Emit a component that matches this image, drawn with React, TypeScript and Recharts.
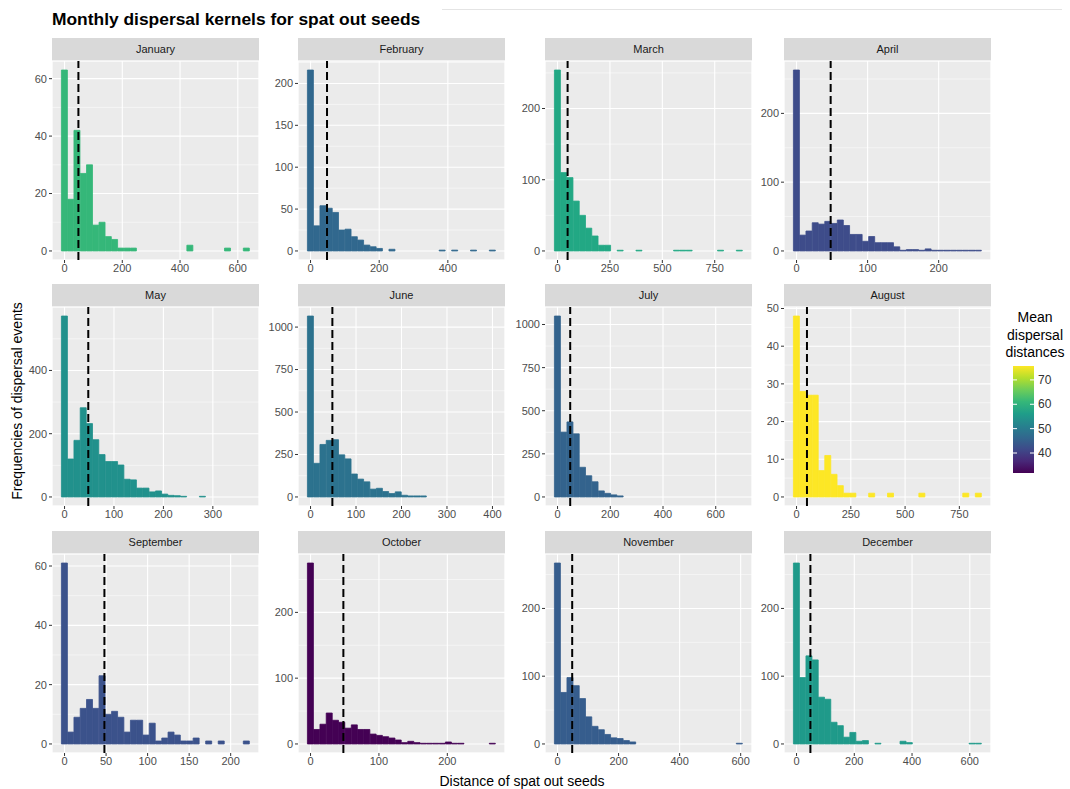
import React from 'react';
import { BarChart, Bar, XAxis, YAxis, CartesianGrid, ReferenceLine } from 'recharts';

// Month facets, in display order (4 per row)
const MONTHS = [
  'January', 'February', 'March', 'April',
  'May', 'June', 'July', 'August',
  'September', 'October', 'November', 'December',
];

// Largest dispersal distance per month (centre of the last of 30 bins)
const MAX_DIST = [630, 530, 868, 256, 368, 400, 690, 838, 219, 266, 596, 630];

// Histogram counts, 30 bins per month
const COUNTS_JAN = [63, 18, 42, 27, 30, 9, 10, 5, 4, 1, 1, 1, 0, 0, 0, 0, 0, 0, 0, 0, 2, 0, 0, 0, 0, 0, 1, 0, 0, 1];
const COUNTS_FEB = [216, 30, 54, 51, 46, 25, 26, 17, 13, 7, 5, 3, 0, 2, 0, 0, 0, 0, 0, 0, 0, 1, 0, 1, 0, 0, 1, 0, 0, 1];
const COUNTS_MAR = [254, 110, 103, 70, 50, 32, 21, 8, 8, 0, 1, 0, 0, 1, 0, 0, 0, 0, 0, 1, 1, 1, 0, 0, 0, 0, 1, 0, 0, 1];
const COUNTS_APR = [263, 23, 29, 41, 39, 43, 40, 45, 37, 24, 24, 14, 21, 12, 12, 12, 6, 1, 2, 2, 1, 3, 1, 1, 1, 1, 1, 1, 1, 1];
const COUNTS_MAY = [572, 120, 179, 282, 232, 181, 134, 112, 112, 101, 56, 54, 28, 28, 16, 19, 9, 5, 4, 2, 0, 0, 2, 0, 0, 0, 0, 0, 0, 0];
const COUNTS_JUN = [1065, 198, 309, 333, 337, 248, 224, 135, 105, 89, 46, 51, 32, 20, 30, 10, 6, 6, 6, 0, 0, 0, 0, 0, 0, 0, 0, 0, 0, 0];
const COUNTS_JUL = [1049, 376, 435, 366, 172, 123, 88, 35, 21, 12, 6, 0, 0, 0, 0, 0, 0, 0, 0, 0, 0, 0, 0, 0, 0, 0, 0, 0, 0, 0];
const COUNTS_AUG = [48, 28, 27, 27, 7, 11, 6, 3, 1, 1, 0, 0, 1, 0, 0, 1, 0, 0, 0, 0, 1, 0, 0, 0, 0, 0, 0, 1, 0, 1];
const COUNTS_SEP = [61, 4, 9, 12, 15, 12, 23, 10, 11, 9, 4, 8, 8, 3, 7, 1, 2, 4, 3, 1, 1, 2, 0, 1, 0, 1, 0, 0, 0, 1];
const COUNTS_OCT = [275, 22, 30, 47, 36, 33, 24, 29, 22, 22, 15, 13, 11, 9, 6, 2, 4, 2, 1, 1, 1, 1, 3, 1, 1, 0, 0, 0, 0, 1];
const COUNTS_NOV = [267, 76, 98, 86, 67, 40, 26, 21, 14, 9, 8, 5, 3, 0, 0, 0, 0, 0, 0, 0, 0, 0, 0, 0, 0, 0, 0, 0, 0, 1];
const COUNTS_DEC = [267, 98, 130, 124, 69, 66, 32, 27, 10, 17, 4, 5, 0, 1, 0, 0, 0, 4, 2, 0, 0, 0, 0, 0, 0, 0, 0, 0, 1, 1];

const COUNTS = [
  COUNTS_JAN, COUNTS_FEB, COUNTS_MAR, COUNTS_APR,
  COUNTS_MAY, COUNTS_JUN, COUNTS_JUL, COUNTS_AUG,
  COUNTS_SEP, COUNTS_OCT, COUNTS_NOV, COUNTS_DEC,
];

// fill colour of each month (viridis, by that month's mean distance)
const BAR_COLORS = [
  '#35B779', '#31688E', '#22A884', '#3E4C8A',
  '#21918C', '#2C728E', '#33638D', '#FDE725',
  '#3B528B', '#440154', '#365D8D', '#1F9A8A',
];

const X_TICKS = [
  [0, 200, 400, 600], [0, 200, 400], [0, 250, 500, 750], [0, 100, 200],
  [0, 100, 200, 300], [0, 100, 200, 300, 400], [0, 200, 400, 600], [0, 250, 500, 750],
  [0, 50, 100, 150, 200], [0, 100, 200], [0, 200, 400, 600], [0, 200, 400, 600],
];

const Y_TICKS = [
  [0, 20, 40, 60], [0, 50, 100, 150, 200], [0, 100, 200], [0, 100, 200],
  [0, 200, 400], [0, 250, 500, 750, 1000], [0, 250, 500, 750, 1000], [0, 10, 20, 30, 40, 50],
  [0, 20, 40, 60], [0, 100, 200], [0, 100, 200], [0, 100, 200],
];

// overall mean distance (dashed line)
const OVERALL_MEAN = 48;

// colour bar
const LEGEND_RANGE = [31.8, 75.7];
const LEGEND_TICKS = [40, 50, 60, 70];
const VIRIDIS = ['#440154', '#482878', '#3E4A89', '#31688E', '#26828E', '#1F9E89', '#35B779', '#6DCD59', '#B4DE2C', '#FDE725'];

const FONT = '"Liberation Sans", Arial, sans-serif';
const COL_LEFT = [52, 298, 545, 784];
const ROW_TOP = [61, 307, 554];
const PANEL_W = 207;
const PANEL_H = 199;
const STRIP_H = 23;
const Y_AXIS_W = 40;
const X_AXIS_H = 20;

const minorOf = (major: number[], lo: number, hi: number) => {
  const step = major[1] - major[0];
  const out: number[] = [];
  for (let v = major[0] - step / 2; v <= major[major.length - 1] + step / 2 + 1e-9; v += step) {
    if (v > lo && v < hi) out.push(v);
  }
  return out;
};

const Panel = ({ idx }: { idx: number }) => {
  const counts = COUNTS[idx];
  const w = MAX_DIST[idx] / (counts.length - 1);
  const data = counts.map((n, i) => ({ x: i * w, n }));

  const lo = -w / 2;
  const hi = MAX_DIST[idx] + w / 2;
  const padX = (hi - lo) * 0.05;
  const xDomain: [number, number] = [lo - padX, hi + padX];
  const yMax = Math.max(...counts);
  const yDomain: [number, number] = [-yMax * 0.05, yMax * 1.05];

  const col = idx % 4;
  const row = Math.floor(idx / 4);
  const color = BAR_COLORS[idx];

  return (
    <div style={{ position: 'absolute', left: COL_LEFT[col] - Y_AXIS_W, top: ROW_TOP[row] - STRIP_H }}>
      <div
        style={{
          marginLeft: Y_AXIS_W,
          width: PANEL_W,
          height: STRIP_H,
          background: '#D9D9D9',
          color: '#1A1A1A',
          fontSize: 11,
          lineHeight: `${STRIP_H}px`,
          textAlign: 'center',
        }}
      >
        {MONTHS[idx]}
      </div>
      <BarChart
        width={Y_AXIS_W + PANEL_W}
        height={PANEL_H + X_AXIS_H}
        data={data}
        margin={{ top: 0, right: 0, bottom: 0, left: 0 }}
        barCategoryGap={0}
        barGap={0}
      >
        <XAxis xAxisId="minor" type="number" domain={xDomain} ticks={minorOf(X_TICKS[idx], xDomain[0], xDomain[1])} allowDataOverflow interval={0} hide />
        <YAxis yAxisId="minor" type="number" domain={yDomain} ticks={minorOf(Y_TICKS[idx], yDomain[0], yDomain[1])} allowDataOverflow interval={0} hide />
        <CartesianGrid xAxisId="minor" yAxisId="minor" stroke="#FFFFFF" strokeWidth={0.5} fill="#EBEBEB" fillOpacity={1} />
        <CartesianGrid stroke="#FFFFFF" strokeWidth={1.1} />
        <XAxis
          type="number"
          dataKey="x"
          domain={xDomain}
          ticks={X_TICKS[idx]}
          allowDataOverflow
          interval={0}
          height={X_AXIS_H}
          axisLine={false}
          tickSize={3}
          tickMargin={1}
          tick={{ fill: '#4D4D4D', fontSize: 11 }}
          tickLine={{ stroke: '#333333' }}
        />
        <YAxis
          type="number"
          domain={yDomain}
          ticks={Y_TICKS[idx]}
          allowDataOverflow
          interval={0}
          width={Y_AXIS_W}
          axisLine={false}
          tickSize={3}
          tickMargin={2}
          tick={{ fill: '#4D4D4D', fontSize: 11 }}
          tickLine={{ stroke: '#333333' }}
        />
        <Bar dataKey="n" fill={color} stroke={color} strokeWidth={0.8} isAnimationActive={false} />
        <ReferenceLine x={OVERALL_MEAN} stroke="#000000" strokeWidth={2} strokeDasharray="8 4" />
      </BarChart>
    </div>
  );
};

const ColorBar = () => {
  const top = 366;
  const bottom = 473;
  const left = 1013;
  const barW = 21;
  const yOf = (v: number) => top + ((LEGEND_RANGE[1] - v) / (LEGEND_RANGE[1] - LEGEND_RANGE[0])) * (bottom - top);
  return (
    <g>
      <defs>
        <linearGradient id="viridis" x1="0" y1="1" x2="0" y2="0">
          {VIRIDIS.map((c, i) => (
            <stop key={c} offset={i / (VIRIDIS.length - 1)} stopColor={c} />
          ))}
        </linearGradient>
      </defs>
      <text textAnchor="middle" fontSize={14} fill="#000">
        <tspan x={1035} y={322}>Mean</tspan>
        <tspan x={1035} y={340}>dispersal</tspan>
        <tspan x={1035} y={357}>distances</tspan>
      </text>
      <rect x={left} y={top} width={barW} height={bottom - top} fill="url(#viridis)" />
      {LEGEND_TICKS.map((t) => (
        <g key={t}>
          <line x1={left} x2={left + 4} y1={yOf(t)} y2={yOf(t)} stroke="#fff" strokeWidth={1} />
          <line x1={left + barW - 4} x2={left + barW} y1={yOf(t)} y2={yOf(t)} stroke="#fff" strokeWidth={1} />
          <text x={left + barW + 4} y={yOf(t)} dominantBaseline="central" fontSize={12} fill="#333">
            {t}
          </text>
        </g>
      ))}
    </g>
  );
};

export default function App() {
  return (
    <div
      style={{
        position: 'absolute',
        left: 0,
        top: 0,
        width: 1070,
        height: 789,
        background: '#fff',
        overflow: 'hidden',
        fontFamily: FONT,
      }}
    >
      <style>{'.recharts-surface { overflow: visible; }'}</style>
      <svg width={1070} height={789} style={{ position: 'absolute', left: 0, top: 0 }} fontFamily={FONT}>
        <line x1={442} x2={1062} y1={9.5} y2={9.5} stroke="#E4E4E4" strokeWidth={1} />
        <text x={52} y={25} fontSize={17.4} fontWeight="bold" fill="#000">
          Monthly dispersal kernels for spat out seeds
        </text>
        <text x={522} y={781} textAnchor="middle" dominantBaseline="central" fontSize={14} fill="#000">
          Distance of spat out seeds
        </text>
        <text
          transform="translate(17,401) rotate(-90)"
          textAnchor="middle"
          dominantBaseline="central"
          fontSize={14}
          fill="#000"
        >
          Frequencies of dispersal events
        </text>
        <ColorBar />
      </svg>
      {MONTHS.map((_m, i) => (
        <Panel key={i} idx={i} />
      ))}
    </div>
  );
}
